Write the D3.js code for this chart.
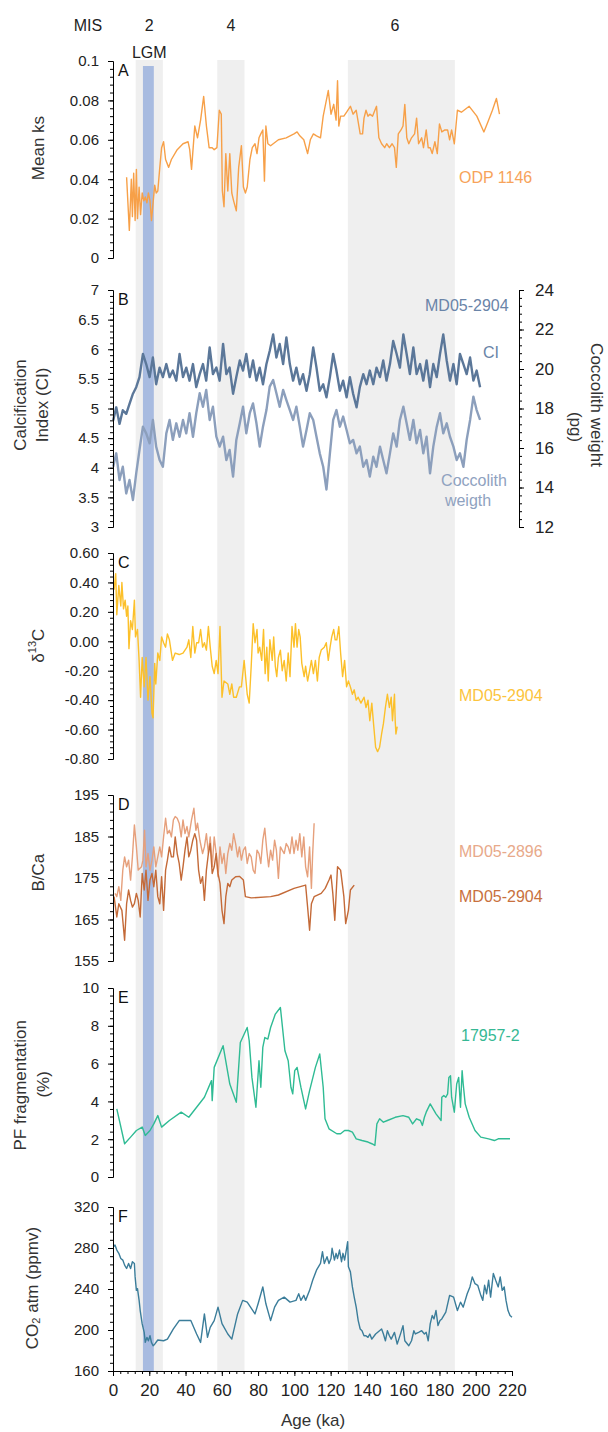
<!DOCTYPE html>
<html>
<head>
<meta charset="utf-8">
<script src="https://cdn.jsdelivr.net/npm/d3@7"></script>
<style>
  body { margin: 0; background: #fff; }
  text { font-family: "Liberation Sans", Arial, sans-serif; }
</style>
</head>
<body>
<svg id="chart"></svg>
<script>
var W = 608, H = 1432;

// glacial stages and LGM (ka)
var misBands = [[12.5, 27.5], [57.5, 72.5], [129.5, 188.5]];
var lgm = [16.5, 22.5];
var misLabels = [["2", 20], ["4", 65], ["6", 155.5]];

// A - mean ks, ODP 1146
var odp1146 = [[7.5,0.041],[9.0,0.014],[10.1,0.040],[10.7,0.021],[11.4,0.043],[12.2,0.019],[12.9,0.045],[13.5,0.020],[14.4,0.036],[15.2,0.022],[16.1,0.033],[17.0,0.029],[17.8,0.031],[18.7,0.028],[19.5,0.033],[20.4,0.029],[21.2,0.019],[22.1,0.028],[23.0,0.037],[23.8,0.033],[24.7,0.034],[25.8,0.046],[26.8,0.056],[27.9,0.059],[29.0,0.050],[30.7,0.046],[32.2,0.050],[35.4,0.055],[38.6,0.058],[41.4,0.059],[42.3,0.055],[43.3,0.045],[45.1,0.067],[46.6,0.061],[48.3,0.070],[50.0,0.082],[51.5,0.067],[53.0,0.056],[54.7,0.056],[55.8,0.055],[57.3,0.056],[58.6,0.075],[59.7,0.073],[60.3,0.034],[61.2,0.026],[62.2,0.053],[63.3,0.034],[64.4,0.053],[65.5,0.033],[66.5,0.029],[68.0,0.024],[69.3,0.046],[70.8,0.057],[71.9,0.036],[73.0,0.033],[74.0,0.036],[75.5,0.050],[76.8,0.056],[78.3,0.058],[79.4,0.053],[80.5,0.061],[81.5,0.063],[82.6,0.065],[83.5,0.039],[84.3,0.067],[85.4,0.058],[86.9,0.057],[91.2,0.060],[95.5,0.061],[99.8,0.063],[101.5,0.064],[103.0,0.062],[105.2,0.060],[107.3,0.053],[108.8,0.060],[110.5,0.063],[112.2,0.062],[114.4,0.061],[115.9,0.072],[118.7,0.085],[120.2,0.073],[121.7,0.078],[123.0,0.070],[123.8,0.090],[124.5,0.067],[125.5,0.072],[127.3,0.072],[128.8,0.074],[130.9,0.077],[132.4,0.073],[134.1,0.075],[136.3,0.063],[137.6,0.063],[138.4,0.071],[139.5,0.075],[140.6,0.072],[141.6,0.073],[143.1,0.072],[144.4,0.075],[145.3,0.077],[146.6,0.061],[148.1,0.058],[149.8,0.056],[150.9,0.058],[152.4,0.056],[153.9,0.058],[155.2,0.056],[156.2,0.046],[157.3,0.063],[158.8,0.065],[159.9,0.067],[160.9,0.078],[162.0,0.061],[163.1,0.058],[164.6,0.061],[166.3,0.063],[167.4,0.071],[168.5,0.058],[170.2,0.061],[171.2,0.056],[172.7,0.065],[173.8,0.056],[174.9,0.056],[176.0,0.053],[177.5,0.059],[178.8,0.053],[180.0,0.068],[181.3,0.064],[183.0,0.065],[184.5,0.065],[185.6,0.060],[186.7,0.065],[188.2,0.058],[189.9,0.075],[192.1,0.074],[196.4,0.077],[200.6,0.072],[204.5,0.064],[206.7,0.069],[209.2,0.075],[211.4,0.081],[213.1,0.073]];

// B - MD05-2904 calcification index and coccolith weight
var bAge = [0.1,1.8,3.6,5.4,7.3,9.1,11.0,12.8,14.6,16.5,18.3,20.2,22.0,23.8,25.7,27.5,29.4,31.2,33.0,34.9,36.7,38.6,40.4,42.2,44.1,45.9,47.8,49.6,51.4,53.3,55.1,57.0,58.8,60.7,62.5,64.3,66.2,68.0,69.9,71.7,73.5,75.4,77.2,79.1,80.9,82.7,84.6,86.4,88.3,90.1,91.9,93.8,95.6,97.5,99.3,101.1,103.0,104.8,106.7,108.5,110.4,112.2,114.0,115.9,117.7,119.6,121.4,123.2,125.1,126.9,128.8,130.6,132.4,134.3,136.1,138.0,139.8,141.6,143.5,145.3,147.2,149.0,150.8,152.7,154.5,156.4,158.2,160.1,161.9,163.7,165.6,167.4,169.3,171.1,172.9,174.8,176.6,178.5,180.3,182.1,184.0,185.8,187.7,189.5,191.3,193.2,195.0,196.9,198.7,200.5,202.4];
var bCI = [4.80,5.02,4.74,4.97,4.91,5.08,5.25,5.36,5.53,5.92,5.75,5.53,5.86,5.41,5.69,5.53,5.75,5.53,5.64,5.47,5.92,5.53,5.69,5.47,5.75,5.36,5.58,5.75,5.47,6.03,5.58,5.69,5.47,6.09,5.58,5.69,5.25,5.53,5.81,5.64,5.92,5.53,5.81,5.47,5.69,5.41,5.75,5.97,6.25,5.86,6.09,5.75,6.20,5.75,5.47,5.69,5.41,5.58,5.30,5.58,6.03,5.69,5.30,5.41,5.19,5.53,5.92,5.64,5.30,5.47,5.19,5.53,5.25,5.02,5.36,5.58,5.41,5.64,5.41,5.69,5.53,5.81,5.47,5.75,6.14,5.92,5.69,6.25,5.92,5.58,6.03,5.58,5.75,5.47,5.81,5.36,5.75,5.53,5.92,6.25,5.81,5.47,5.75,5.41,5.92,5.75,5.58,5.86,5.47,5.64,5.36];
var bWeight = [15.05,15.73,14.38,15.05,13.70,14.38,13.37,14.72,15.90,17.08,16.74,16.24,17.42,16.07,15.39,15.05,16.74,17.42,16.41,17.25,16.57,17.42,16.74,17.76,16.57,17.76,18.77,18.09,18.94,17.42,18.09,16.57,16.07,16.57,15.39,15.90,14.55,16.41,17.25,18.09,16.74,17.76,18.26,17.25,16.07,17.08,17.92,19.11,19.44,18.77,18.09,18.94,18.43,17.92,17.42,18.09,17.08,16.07,16.91,17.76,17.42,16.57,15.73,15.05,13.90,15.73,17.42,17.92,17.08,17.59,16.91,16.24,16.41,15.73,16.07,15.05,15.39,14.55,15.56,15.05,16.07,15.39,14.72,15.73,16.74,16.07,17.42,18.09,17.25,16.41,17.42,16.24,16.91,15.73,16.57,14.72,16.07,17.08,17.76,16.74,17.25,16.57,16.07,15.39,15.73,15.05,16.41,17.42,18.60,17.92,17.42];

// C - d13C, MD05-2904
var d13c = [[0.6,0.35],[1.5,0.46],[2.1,0.18],[3.2,0.38],[4.3,0.24],[4.9,0.40],[5.8,0.22],[6.7,0.28],[7.5,0.17],[8.2,0.24],[8.8,-0.05],[9.7,0.14],[10.7,0.08],[11.8,0.28],[12.4,0.03],[13.5,0.08],[14.4,-0.13],[15.2,-0.38],[16.1,-0.11],[17.2,-0.31],[18.2,-0.11],[19.3,-0.40],[20.4,-0.24],[21.5,-0.49],[22.1,-0.52],[23.0,-0.15],[23.6,-0.29],[24.7,-0.08],[25.8,-0.13],[26.8,0.03],[27.9,-0.01],[29.0,-0.04],[30.0,0.05],[31.1,0.01],[32.8,-0.13],[34.3,-0.08],[36.5,-0.09],[38.6,-0.08],[40.8,-0.04],[41.8,0.01],[42.9,-0.11],[44.0,0.10],[45.1,-0.08],[46.1,-0.01],[47.2,-0.01],[48.3,0.08],[49.4,-0.04],[50.4,-0.01],[51.5,-0.06],[52.6,0.10],[53.6,-0.04],[54.7,-0.17],[55.8,-0.22],[56.9,-0.13],[57.9,-0.22],[59.0,0.10],[60.1,-0.38],[61.2,-0.27],[63.3,-0.29],[64.4,-0.36],[65.5,-0.29],[66.5,-0.38],[68.0,-0.38],[69.7,-0.31],[70.8,-0.31],[72.3,-0.13],[74.0,-0.36],[75.1,-0.42],[76.2,-0.17],[77.3,0.12],[78.3,-0.01],[79.4,0.08],[80.0,-0.08],[80.9,-0.04],[82.0,-0.13],[83.0,0.08],[83.9,-0.22],[84.8,-0.04],[85.6,-0.27],[86.5,0.01],[87.8,-0.13],[88.6,0.03],[89.5,-0.17],[90.3,-0.24],[91.2,-0.11],[92.3,-0.06],[93.3,-0.20],[94.4,-0.13],[95.5,-0.27],[96.6,-0.08],[97.6,-0.24],[98.7,0.10],[99.8,-0.04],[100.6,0.12],[101.5,-0.04],[102.4,0.08],[103.2,0.03],[104.1,-0.15],[105.4,-0.24],[106.2,-0.17],[107.3,-0.27],[108.4,-0.20],[109.4,-0.13],[110.5,-0.22],[111.6,-0.13],[112.7,-0.27],[113.7,-0.11],[114.8,-0.06],[116.5,-0.04],[117.6,-0.01],[118.7,-0.13],[119.7,-0.04],[120.6,0.03],[121.7,0.08],[122.5,0.01],[123.4,0.01],[124.5,0.10],[125.5,-0.08],[126.6,-0.24],[127.7,-0.13],[128.8,-0.31],[129.8,-0.27],[130.9,-0.31],[132.0,-0.36],[133.0,-0.33],[134.1,-0.40],[135.2,-0.38],[136.7,-0.42],[138.4,-0.38],[139.5,-0.45],[140.6,-0.40],[141.6,-0.54],[142.7,-0.42],[143.8,-0.58],[144.8,-0.72],[145.9,-0.75],[147.0,-0.72],[148.1,-0.63],[149.1,-0.56],[150.2,-0.45],[151.3,-0.36],[152.4,-0.45],[153.4,-0.38],[154.1,-0.54],[155.2,-0.36],[155.6,-0.54],[156.0,-0.63],[156.7,-0.58]];

// D - B/Ca
var bca2896 = [[1.1,171.3],[2.1,170.5],[3.2,172.9],[4.3,169.6],[5.4,176.9],[6.4,180.1],[7.5,177.7],[8.6,179.3],[9.7,174.5],[10.7,180.1],[11.8,187.8],[12.9,182.5],[13.9,176.9],[15.7,177.7],[16.5,179.3],[17.4,186.5],[18.2,177.7],[19.3,180.9],[20.4,176.9],[21.5,179.3],[22.5,182.5],[23.6,177.7],[24.7,180.1],[25.8,182.5],[26.8,180.1],[27.9,184.9],[29.0,189.4],[30.0,185.7],[31.1,186.5],[32.2,184.9],[33.3,189.0],[34.3,189.8],[35.4,189.4],[36.5,188.2],[37.6,184.9],[38.6,189.0],[39.7,185.7],[40.8,187.4],[41.8,184.9],[43.3,189.0],[44.6,191.8],[45.7,186.5],[46.6,188.2],[47.9,184.1],[49.4,180.9],[50.4,182.5],[51.5,185.7],[52.6,180.9],[53.6,184.9],[54.7,177.7],[55.8,184.9],[56.9,180.9],[57.9,175.3],[59.0,182.5],[60.1,178.5],[61.2,180.9],[62.2,176.1],[63.3,180.9],[64.4,183.3],[65.5,181.7],[66.5,185.7],[67.6,183.3],[68.7,180.1],[69.7,182.5],[70.8,179.3],[71.9,181.7],[73.0,182.5],[74.0,178.5],[75.1,180.9],[76.2,180.1],[77.3,176.9],[78.3,176.1],[79.4,181.7],[80.5,180.9],[81.5,178.5],[82.6,184.1],[83.7,187.0],[84.8,181.7],[85.8,177.7],[86.9,181.7],[88.0,179.3],[89.1,184.1],[90.1,181.7],[91.2,174.9],[92.3,182.5],[93.3,181.7],[94.4,180.9],[95.5,183.3],[96.6,182.5],[97.6,180.9],[98.7,184.9],[99.8,180.9],[100.9,184.1],[101.9,181.7],[103.0,185.7],[104.1,180.1],[105.2,184.9],[106.2,177.7],[107.3,175.3],[108.4,182.5],[109.4,172.5],[110.1,180.9],[110.9,188.2]];
var bca2904 = [[0.6,170.5],[2.1,165.6],[3.2,168.8],[4.9,167.2],[6.4,160.0],[7.5,168.8],[8.6,172.1],[9.7,169.6],[10.7,168.0],[11.8,168.8],[12.9,171.3],[13.9,169.6],[15.0,165.6],[16.1,176.1],[17.2,172.1],[18.2,176.9],[19.3,169.6],[20.4,174.5],[21.5,176.1],[22.5,172.9],[23.6,176.9],[24.7,170.5],[25.8,168.8],[26.8,175.3],[27.9,167.2],[29.0,176.9],[30.0,179.3],[31.1,182.5],[32.2,180.1],[33.3,180.1],[34.3,184.9],[35.4,180.9],[36.5,178.5],[37.6,174.5],[38.6,177.7],[39.7,181.7],[40.8,184.9],[41.8,180.1],[42.9,181.7],[44.0,184.1],[45.1,185.7],[46.1,184.1],[47.2,176.9],[48.3,173.7],[49.4,175.3],[50.4,169.6],[51.5,176.9],[52.6,180.9],[53.6,183.3],[54.7,176.1],[55.8,177.7],[56.9,180.9],[57.9,176.1],[59.0,173.7],[60.1,167.2],[61.2,164.0],[62.2,170.5],[63.3,173.7],[64.4,172.9],[65.5,174.5],[67.6,175.3],[69.7,175.4],[71.9,174.5],[73.0,170.5],[76.2,170.2],[86.9,170.5],[91.2,170.9],[99.8,172.5],[106.2,173.3],[107.3,168.0],[108.4,162.4],[109.4,168.8],[110.9,170.5],[114.8,171.3],[117.0,172.5],[119.1,174.5],[120.2,175.7],[121.2,171.3],[122.3,164.8],[123.8,177.7],[125.5,176.9],[127.3,170.5],[128.3,164.0],[129.8,167.2],[130.9,172.1],[133.0,173.3]];

// E - PF fragmentation, 17957-2
var frag = [[2.1,3.60],[6.4,1.76],[9.7,2.11],[12.9,2.46],[16.1,2.64],[17.8,2.20],[20.4,2.46],[22.5,2.81],[24.7,3.25],[26.8,2.64],[31.1,2.99],[37.6,3.43],[41.8,3.16],[46.1,3.69],[50.4,4.22],[54.3,5.10],[54.7,4.04],[55.8,5.80],[60.7,6.95],[64.4,4.92],[68.0,3.96],[70.2,7.12],[74.0,7.91],[75.1,7.21],[76.6,5.27],[78.8,3.69],[80.5,6.15],[81.5,4.75],[82.6,6.86],[83.7,7.38],[85.4,7.30],[86.9,7.91],[89.5,8.62],[92.3,8.97],[94.8,6.68],[96.6,6.15],[98.1,4.75],[99.1,4.40],[100.2,5.63],[101.5,5.80],[103.6,4.75],[106.2,3.60],[108.4,4.57],[111.6,5.80],[114.0,6.51],[115.9,4.75],[116.9,3.08],[119.1,2.55],[123.4,2.29],[125.5,2.29],[127.7,2.46],[129.8,2.46],[132.0,2.37],[134.1,2.02],[137.3,1.93],[140.6,1.85],[142.7,1.76],[144.4,1.67],[145.5,2.81],[147.0,3.08],[149.1,2.90],[151.3,2.99],[155.6,3.16],[159.9,3.25],[163.1,3.16],[165.2,2.81],[167.4,3.08],[169.5,2.99],[170.6,2.73],[171.7,3.16],[172.7,3.43],[174.9,3.87],[178.1,3.34],[180.9,2.99],[181.3,4.22],[182.4,4.31],[183.5,4.22],[184.5,4.40],[185.2,5.27],[186.1,5.36],[186.7,4.22],[188.2,3.43],[189.5,4.92],[190.6,5.27],[191.6,3.69],[192.5,5.63],[193.1,4.92],[194.2,3.87],[196.4,3.16],[199.6,2.46],[202.8,2.11],[207.1,2.02],[210.3,1.93],[212.4,2.02],[215.7,2.02],[218.9,2.02]];

// F - atmospheric CO2
var co2 = [[0.4,281.3],[1.1,282.9],[2.1,278.0],[3.2,274.8],[4.3,269.8],[5.4,268.2],[6.4,263.3],[7.5,260.0],[8.6,264.9],[9.7,260.0],[10.7,266.6],[11.8,264.9],[12.2,251.8],[12.9,238.7],[13.5,240.3],[14.4,228.9],[15.0,219.0],[16.1,205.9],[17.2,197.7],[17.8,187.9],[18.7,192.8],[19.5,189.5],[20.4,194.4],[21.2,187.9],[22.1,184.6],[23.0,186.2],[24.7,190.2],[27.9,189.5],[30.0,191.1],[33.3,201.0],[36.5,209.2],[42.9,209.2],[46.1,196.1],[48.3,187.9],[50.4,215.7],[52.1,192.8],[53.6,202.6],[55.8,209.2],[57.9,222.3],[60.1,206.2],[63.3,196.1],[65.5,191.1],[68.7,215.7],[71.5,228.9],[74.0,227.2],[78.3,215.7],[80.0,225.6],[82.6,242.0],[84.3,225.6],[86.9,209.2],[89.1,222.3],[91.2,228.9],[94.4,232.1],[97.6,227.2],[100.9,228.9],[102.4,235.4],[103.6,228.9],[105.2,233.8],[106.2,228.9],[108.4,238.7],[110.1,248.5],[112.2,258.4],[114.4,264.9],[115.5,276.4],[116.5,264.9],[118.0,271.5],[119.1,264.9],[120.2,269.8],[120.8,279.7],[122.1,268.2],[123.0,274.8],[123.8,269.8],[124.9,278.0],[126.0,266.6],[126.8,274.8],[127.7,268.2],[128.5,276.4],[129.4,286.2],[129.8,261.6],[130.9,256.7],[132.0,242.0],[133.0,232.1],[134.1,222.3],[135.2,209.2],[136.3,201.0],[137.3,199.3],[138.4,194.4],[139.5,194.4],[140.6,192.8],[141.6,196.1],[142.7,191.1],[144.8,196.1],[148.1,201.0],[149.1,196.1],[150.2,189.5],[151.3,199.3],[152.4,194.4],[153.4,191.1],[155.2,197.7],[156.7,186.2],[158.8,197.7],[159.9,204.3],[160.9,189.5],[163.1,184.6],[164.6,189.5],[165.9,199.3],[166.7,196.1],[168.5,197.7],[170.2,199.3],[171.7,196.1],[172.7,197.7],[173.8,189.5],[174.9,205.9],[176.0,214.1],[177.0,210.8],[178.1,219.0],[179.2,204.3],[180.3,209.2],[181.3,210.8],[183.5,217.4],[185.6,233.8],[187.8,232.1],[189.9,219.0],[191.6,227.2],[193.1,222.3],[195.3,235.4],[196.8,242.0],[198.1,251.8],[199.6,245.2],[201.1,243.6],[202.8,233.8],[203.9,228.9],[204.9,243.6],[206.0,235.4],[207.1,248.5],[208.2,232.1],[209.7,255.1],[211.0,248.5],[212.4,242.0],[213.5,251.8],[214.6,238.7],[215.7,242.0],[216.7,228.9],[217.8,219.0],[218.9,214.1],[220.0,212.5]];

var svg = d3.select("#chart").attr("width", W).attr("height", H);
svg.append("rect").attr("width", W).attr("height", H).attr("fill", "#fff");

var x = d3.scaleLinear().domain([0, 220]).range([113, 512]);
var bandTop = 60, bandBottom = 1371;

var yA = d3.scaleLinear().domain([0, 0.1]).range([258, 61]);
var yB = d3.scaleLinear().domain([3, 7]).range([527, 290]);
var yB2 = d3.scaleLinear().domain([12, 24]).range([527, 290]);
var yC = d3.scaleLinear().domain([-0.8, 0.6]).range([759, 553]);
var yD = d3.scaleLinear().domain([155, 195]).range([961, 795]);
var yE = d3.scaleLinear().domain([0, 10]).range([1177, 988]);
var yF = d3.scaleLinear().domain([160, 320]).range([1371, 1207]);

// shaded stages
svg.selectAll("rect.mis")
  .data(misBands)
  .enter()
  .append("rect")
  .attr("class", "mis")
  .attr("x", function(d){ return x(d[0]); })
  .attr("width", function(d){ return x(d[1]) - x(d[0]); })
  .attr("y", bandTop)
  .attr("height", bandBottom - bandTop)
  .attr("fill", "#efefef");

svg.append("rect")
  .attr("x", x(lgm[0]))
  .attr("width", x(lgm[1]) - x(lgm[0]))
  .attr("y", 66)
  .attr("height", bandBottom - 66)
  .attr("fill", "#a8bbe0");

function ticks(lo, hi, step){
  var out = [];
  var n = Math.round((hi - lo) / step);
  for (var i = 0; i <= n; i++) out.push(+(lo + i * step).toFixed(6));
  return out;
}

function styleAxis(s, size){
  s.selectAll("path, line").attr("stroke", "#000");
  s.selectAll("text").attr("font-size", size || 15).attr("fill", "#222")
    .attr("font-family", "Liberation Sans, Arial, sans-serif");
}

function leftAxis(y, lo, hi, major, minor, fmt){
  var g = svg.append("g").attr("transform", "translate(" + x(0) + ",0)");
  g.call(d3.axisLeft(y).tickValues(ticks(lo, hi, minor)).tickSize(3).tickSizeOuter(0).tickFormat(""));
  var g2 = svg.append("g").attr("transform", "translate(" + x(0) + ",0)");
  g2.call(d3.axisLeft(y).tickValues(ticks(lo, hi, major)).tickSize(5).tickSizeOuter(0).tickPadding(9).tickFormat(fmt));
  styleAxis(g);
  styleAxis(g2, 15);
}

function plotLine(data, y, color, width){
  svg.append("path")
    .datum(data)
    .attr("fill", "none")
    .attr("stroke", color)
    .attr("stroke-width", width || 1.3)
    .attr("stroke-linejoin", "round")
    .attr("d", d3.line().x(function(d){ return x(d[0]); }).y(function(d){ return y(d[1]); }));
}

function label(txt, px, py, color, size, anchor){
  return svg.append("text")
    .attr("x", px).attr("y", py)
    .attr("font-size", size || 16)
    .attr("text-anchor", anchor || "start")
    .attr("dominant-baseline", "central")
    .attr("fill", color || "#222")
    .text(txt);
}

function vTitle(px, py, rot){
  return svg.append("text")
    .attr("transform", "translate(" + px + "," + py + ") rotate(" + rot + ")")
    .attr("text-anchor", "middle")
    .attr("dominant-baseline", "central")
    .attr("font-size", 17)
    .attr("fill", "#333");
}

// series
plotLine(odp1146, yA, "#f7a048", 1.4);
plotLine(bAge.map(function(a, i){ return [a, bWeight[i]]; }), yB2, "#8c9fbc", 2.4);
plotLine(bAge.map(function(a, i){ return [a, bCI[i]]; }), yB, "#5b7799", 2.4);
plotLine(d13c, yC, "#fcc02a", 1.4);
plotLine(bca2896, yD, "#e6a07c", 1.4);
plotLine(bca2904, yD, "#c46a38", 1.4);
plotLine(frag, yE, "#2fbb94", 1.4);
plotLine(co2, yF, "#3b7d9a", 1.4);

// axes
leftAxis(yA, 0, 0.1, 0.02, 0.004, function(d){ return d3.format("~g")(d); });
leftAxis(yB, 3, 7, 0.5, 0.1, function(d){ return d3.format("~g")(d); });
leftAxis(yC, -0.8, 0.6, 0.2, 0.04, function(d){ return d.toFixed(2); });
leftAxis(yD, 155, 195, 10, 2, d3.format("d"));
leftAxis(yE, 0, 10, 2, 0.4, d3.format("d"));
leftAxis(yF, 160, 320, 40, 8, d3.format("d"));

// right axis of B
var gr = svg.append("g").attr("transform", "translate(519,0)");
gr.call(d3.axisRight(yB2).tickValues(ticks(12, 24, 0.4)).tickSize(3).tickSizeOuter(0).tickFormat(""));
var gr2 = svg.append("g").attr("transform", "translate(519,0)");
gr2.call(d3.axisRight(yB2).tickValues(ticks(12, 24, 2)).tickSize(5).tickSizeOuter(0).tickPadding(11).tickFormat(d3.format("d")));
styleAxis(gr);
styleAxis(gr2, 17);

// x axis
var gx = svg.append("g").attr("transform", "translate(0," + bandBottom + ")");
gx.call(d3.axisBottom(x).tickValues(ticks(0, 220, 4)).tickSize(3).tickSizeOuter(0).tickFormat(""));
var gx2 = svg.append("g").attr("transform", "translate(0," + bandBottom + ")");
gx2.call(d3.axisBottom(x).tickValues(ticks(0, 220, 20)).tickSize(5).tickSizeOuter(0).tickPadding(8).tickFormat(d3.format("d")));
styleAxis(gx);
styleAxis(gx2, 17);
label("Age (ka)", 313, 1420, "#333", 17, "middle");

// MIS header
label("MIS", 88, 25, "#222", 16, "middle");
svg.selectAll("text.mis")
  .data(misLabels)
  .enter()
  .append("text")
  .attr("class", "mis")
  .attr("x", function(d){ return x(d[1]); })
  .attr("y", 25)
  .attr("dominant-baseline", "central")
  .attr("text-anchor", "middle")
  .attr("font-size", 16)
  .attr("fill", "#222")
  .text(function(d){ return d[0]; });
label("LGM", x(20), 52, "#222", 16, "middle");

// panel letters
[["A", yA(0.1)], ["B", yB(7)], ["C", yC(0.6)], ["D", yD(195)], ["E", yE(10)], ["F", yF(320)]].forEach(function(p){
  label(p[0], 118, p[1] + 9, "#111", 16, "start");
});

// axis titles
vTitle(38, 148, -90).text("Mean ks");
vTitle(20, 405, -90).text("Calcification");
vTitle(42, 405, -90).text("Index (CI)");
var tc = vTitle(38, yC(-0.03), -90);
tc.append("tspan").text("δ");
tc.append("tspan").attr("font-size", 11).attr("dy", -6).text("13");
tc.append("tspan").attr("dy", 6).text("C");
vTitle(38, yD(176.3), -90).text("B/Ca");
vTitle(20, yE(4.85), -90).text("PF fragmentation");
vTitle(43, yE(4.9), -90).text("(%)");
var tf = vTitle(32, 1288, -90);
tf.append("tspan").text("CO");
tf.append("tspan").attr("font-size", 11).attr("dy", 4).text("2");
tf.append("tspan").attr("dy", -4).text(" atm (ppmv)");
vTitle(596, 405, 90).text("Coccolith weight");
vTitle(575, 427, 90).text("(pg)");

// series labels
label("ODP 1146", 459, yA(0.041), "#f7a35a");
label("MD05-2904", 425, 305, "#6a84a8");
label("CI", 491, 352, "#6a84a8", 16, "middle");
label("Coccolith", 474, 480, "#8fa2c0", 16, "middle");
label("weigth", 468, 500, "#8fa2c0", 16, "middle");
label("MD05-2904", 459, yC(-0.367), "#fcc43d");
label("MD05-2896", 459, yD(181.3), "#e8a98a");
label("MD05-2904", 459, yD(170.6), "#c8713e");
label("17957-2", 461, yE(7.47), "#36b894");
</script>
</body>
</html>
